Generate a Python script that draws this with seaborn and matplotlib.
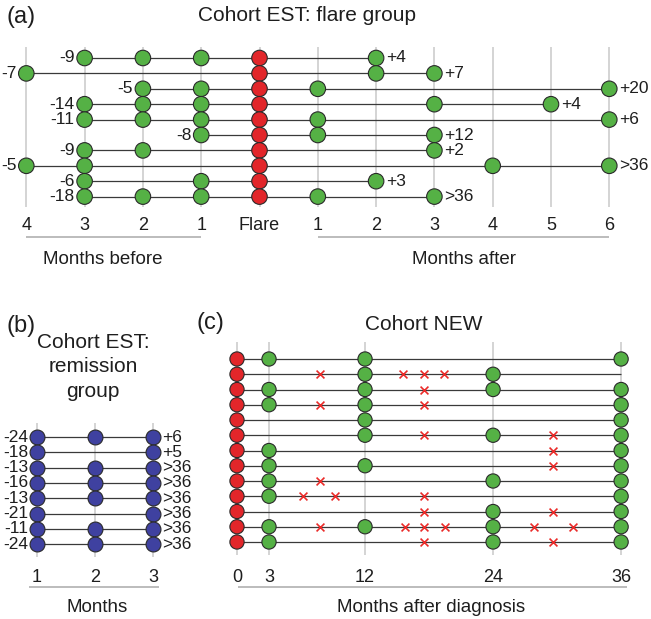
import numpy as np
import pandas as pd
import matplotlib
matplotlib.use("Agg")
import matplotlib.pyplot as plt
import seaborn as sns

# ---------------- data ----------------
# Panel (a): Cohort EST, flare group (months before / after flare)
a_left_labels = ["-9", "-7", "-5", "-14", "-11", "-8", "-9", "-5", "-6", "-18"]
a_right_labels = ["+4", "+7", "+20", "+4", "+6", "+12", "+2", ">36", "+3", ">36"]
a_before = [[3, 2, 1], [4], [2, 1], [3, 2, 1], [3, 2, 1], [1], [3, 2], [4, 3], [3, 1], [3, 2, 1]]
a_after = [[2], [2, 3], [1, 6], [3, 5], [1, 6], [1, 3], [3], [4, 6], [2], [1, 3]]
a_tick_pos = [-4, -3, -2, -1, 0, 1, 2, 3, 4, 5, 6]
a_tick_labels = ["4", "3", "2", "1", "Flare", "1", "2", "3", "4", "5", "6"]

# Panel (b): Cohort EST, remission group
b_left_labels = ["-24", "-18", "-13", "-16", "-13", "-21", "-11", "-24"]
b_right_labels = ["+6", "+5", ">36", ">36", ">36", ">36", ">36", ">36"]
b_visits = [[1, 2, 3], [1, 3], [1, 2, 3], [1, 2, 3], [1, 2, 3], [1, 3], [1, 2, 3], [1, 2, 3]]
b_ticks = [1, 2, 3]

# Panel (c): Cohort NEW (months after diagnosis)
c_visits = [[3, 12, 36], [12, 24], [3, 12, 24, 36], [3, 12, 36], [12, 36], [12, 24, 36],
            [3, 36], [3, 12, 36], [3, 24, 36], [3, 36], [24, 36], [3, 12, 24, 36], [3, 24, 36]]
c_flares = [[], [7.8, 15.6, 17.5, 19.4], [17.5], [7.8, 17.5], [], [17.5, 29.6],
            [29.6], [29.6], [7.8], [6.2, 9.2, 17.5], [17.5, 29.6],
            [7.8, 15.7, 17.5, 19.5, 27.8, 31.5], [17.5, 29.6]]
c_end = 36
c_ticks = [0, 3, 12, 24, 36]

# ---------------- style ----------------
sns.set_style("white")
plt.rcParams["font.family"] = ["Liberation Sans", "DejaVu Sans"]

GREEN = "#55b145"
RED = "#e2262a"
BLUE = "#3f41a0"
EDGE = "#2a2a2a"
ROWLINE = "#3a3a3a"
GRID = "#c9c9c9"
UNDER = "#a9a9a9"
TXT = "#1e1e1e"

W, H = 651, 619
fig = plt.figure(figsize=(W / 100, H / 100), dpi=100)


def make_panel(box, x0, xs, y0, ys):
    L, T, R, B = box
    ax = fig.add_axes([L / W, 1 - B / H, (R - L) / W, (B - T) / H])
    lims = ((L - x0) / xs, (R - x0) / xs, (B - y0) / ys, (T - y0) / ys)
    fx = lambda px: (px - x0) / xs
    fy = lambda py: (py - y0) / ys
    return ax, lims, fx, fy


def finish(ax, lims):
    ax.set_xlim(lims[0], lims[1])
    ax.set_ylim(lims[2], lims[3])
    ax.axis("off")


LAB = 12.5
TICK = 13
AXL = 13.5
TITLE = 15
PANEL = 17

# ---------------- panel (a) ----------------
ax, lims, fx, fy = make_panel((0, 0, 651, 280), 259.5, 58.3, 58, 15.4)
recs = []
for i, (bef, aft) in enumerate(zip(a_before, a_after)):
    for m in bef:
        recs.append(dict(x=-m, row=i, kind="visit"))
    recs.append(dict(x=0, row=i, kind="flare"))
    for m in aft:
        recs.append(dict(x=m, row=i, kind="visit"))
dfa = pd.DataFrame(recs)

ax.vlines(a_tick_pos, fy(47), fy(207), color=GRID, lw=1.1, zorder=0)
ext = dfa.groupby("row")["x"].agg(["min", "max"])
ax.hlines(ext.index, ext["min"], ext["max"], color=ROWLINE, lw=0.9, zorder=1)
sns.scatterplot(data=dfa, x="x", y="row", hue="kind", palette={"visit": GREEN, "flare": RED},
                s=125, edgecolor=EDGE, linewidth=0.8, legend=False, ax=ax, zorder=3)
for i in ext.index:
    ax.annotate(a_left_labels[i], (ext.loc[i, "min"], i), xytext=(-7.2, 0), textcoords="offset points",
                ha="right", va="center", fontsize=LAB, color=TXT)
    ax.annotate(a_right_labels[i], (ext.loc[i, "max"], i), xytext=(7.2, 0), textcoords="offset points",
                ha="left", va="center", fontsize=LAB, color=TXT)
for p, lab in zip(a_tick_pos, a_tick_labels):
    ax.text(p, fy(226), lab, ha="center", va="center", fontsize=TICK, color=TXT)
ax.hlines(fy(237), -4, -1, color=UNDER, lw=1.1)
ax.hlines(fy(237), 1, 6, color=UNDER, lw=1.1)
ax.text(fx(103), fy(260), "Months before", ha="center", va="center", fontsize=AXL, color=TXT)
ax.text(3.5, fy(260), "Months after", ha="center", va="center", fontsize=AXL, color=TXT)
ax.text(fx(307), fy(21), "Cohort EST: flare group", ha="center", va="baseline", fontsize=TITLE, color=TXT)
ax.text(fx(6), fy(23), "(a)", ha="left", va="baseline", fontsize=PANEL, color=TXT)
finish(ax, lims)

# ---------------- panel (b) ----------------
ax, lims, fx, fy = make_panel((0, 280, 190, 619), 36.7 - 58.3, 58.3, 437, 15.3)
dfb = pd.DataFrame([dict(x=m, row=i) for i, v in enumerate(b_visits) for m in v])
ax.vlines(b_ticks, fy(423), fy(557), color=GRID, lw=1.1, zorder=0)
extb = dfb.groupby("row")["x"].agg(["min", "max"])
ax.hlines(extb.index, extb["min"], extb["max"], color=ROWLINE, lw=0.9, zorder=1)
sns.scatterplot(data=dfb, x="x", y="row", color=BLUE, s=115, edgecolor=EDGE, linewidth=0.8,
                legend=False, ax=ax, zorder=3)
for i in extb.index:
    ax.annotate(b_left_labels[i], (extb.loc[i, "min"], i), xytext=(-5.8, 0), textcoords="offset points",
                ha="right", va="center", fontsize=LAB, color=TXT)
    ax.annotate(b_right_labels[i], (extb.loc[i, "max"], i), xytext=(6.5, 0), textcoords="offset points",
                ha="left", va="center", fontsize=LAB, color=TXT)
for p in b_ticks:
    ax.text(p, fy(577), str(p), ha="center", va="center", fontsize=TICK, color=TXT)
ax.hlines(fy(587), fx(29), fx(159), color=UNDER, lw=1.1)
ax.text(fx(97), fy(608), "Months", ha="center", va="center", fontsize=AXL, color=TXT)
for k, line in enumerate(["Cohort EST:", "remission", "group"]):
    ax.text(fx(93), fy(348 + 24.5 * k), line, ha="center", va="baseline", fontsize=TITLE, color=TXT)
ax.text(fx(6), fy(332), "(b)", ha="left", va="baseline", fontsize=PANEL, color=TXT)
finish(ax, lims)

# ---------------- panel (c) ----------------
ax, lims, fx, fy = make_panel((190, 300, 651, 619), 237, 10.67, 359, 15.25)
recs = []
for i, v in enumerate(c_visits):
    recs.append(dict(x=0, row=i, kind="diagnosis"))
    for m in v:
        recs.append(dict(x=m, row=i, kind="visit"))
dfc = pd.DataFrame(recs)
dfx = pd.DataFrame([dict(x=m, row=i) for i, v in enumerate(c_flares) for m in v])
n_c = len(c_visits)
ax.vlines(c_ticks, fy(342), fy(555), color=GRID, lw=1.1, zorder=0)
ax.hlines(range(n_c), 0, c_end, color=ROWLINE, lw=0.9, zorder=1)
sns.scatterplot(data=dfx, x="x", y="row", color="#ea2a28", marker="x", s=32, linewidth=1.2,
                legend=False, ax=ax, zorder=2)
sns.scatterplot(data=dfc, x="x", y="row", hue="kind", palette={"visit": GREEN, "diagnosis": RED},
                s=105, edgecolor=EDGE, linewidth=0.8, legend=False, ax=ax, zorder=3)
for p in c_ticks:
    ax.text(p, fy(577), str(p), ha="center", va="center", fontsize=TICK, color=TXT)
ax.hlines(fy(587), fx(238), fx(627), color=UNDER, lw=1.1)
ax.text(fx(431), fy(607), "Months after diagnosis", ha="center", va="center", fontsize=AXL, color=TXT)
ax.text(fx(424), fy(330), "Cohort NEW", ha="center", va="baseline", fontsize=TITLE, color=TXT)
ax.text(fx(197), fy(329), "(c)", ha="left", va="baseline", fontsize=PANEL, color=TXT)
finish(ax, lims)

fig.savefig("out.png", dpi=100)
